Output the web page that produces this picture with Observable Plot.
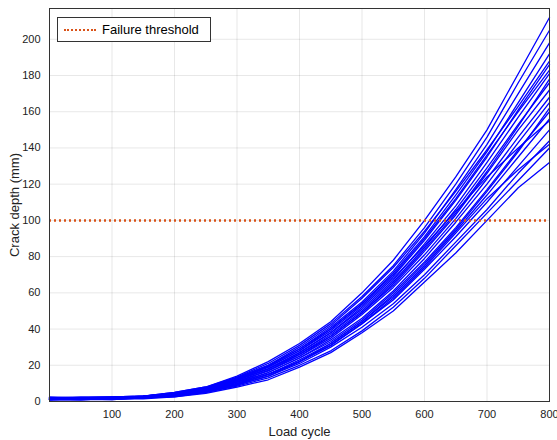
<!DOCTYPE html>
<html><head><meta charset="utf-8">
<script src="https://cdn.jsdelivr.net/npm/d3@7"></script>
<script src="https://cdn.jsdelivr.net/npm/@observablehq/plot@0.6"></script>
<style>
body{margin:0;background:#fff;font-family:"Helvetica","Liberation Sans",sans-serif}
#wrap{position:relative;width:557px;height:440px}
#legend{position:absolute;left:57px;top:17px;width:152px;height:23px;border:1px solid #333;background:#fff;font-size:13px;display:flex;align-items:center}
#legend span.l{display:inline-block;width:32px;margin:0 6px 0 6px;border-top:2.5px dotted #d95319}
</style></head><body>
<div id="wrap"><div id="chart"></div><div id="legend"><span class="l"></span>Failure threshold</div></div>
<script>
const cycles = [0,50,100,150,200,250,300,350,400,450,500,550,600,650,700,750,800];
const curves = [
  [1,1,1.5,1.5,2.5,4.5,8,12,19,27,38,50,66,82,100,118,132],
  [1.5,1,1.5,2,2.5,5,8.5,13,20,28,39,52,68,86,104,122,140],
  [1,1.5,1,2,3,5,9,14,21,30,41,54,70,88,106,126,144],
  [2,1.5,2,2,3,5.5,9.5,15,22,31,43,56,73,91,110,130,150],
  [1,1,1.5,2,3,5.5,10,15,23,32,44,58,75,94,114,135,156],
  [1.5,2,1.5,2.5,3.5,6,10,16,24,33,45,60,77,96,117,139,160],
  [1,1.5,2,2,3.5,6,10.5,16,24,34,46,61,79,99,120,143,165],
  [2,1.5,1.5,2.5,3.5,6,11,17,25,35,48,63,81,101,123,146,168],
  [1.5,1,2,2,3.5,6.5,11,17,26,36,49,64,83,103,126,150,172],
  [1,2,1.5,2.5,4,6.5,11.5,18,26,37,50,66,85,106,129,153,176],
  [2,1.5,2,2.5,4,7,12,18,27,38,51,67,87,108,132,157,181],
  [1.5,2,2,3,4,7,12,19,28,39,53,69,89,111,135,161,186],
  [1,1.5,2,2.5,4.5,7,12.5,19,28,40,54,71,91,114,138,165,192],
  [2,2,2.5,3,4.5,7.5,13,20,29,41,55,72,93,117,142,170,198],
  [1.5,2,2,3,5,8,13.5,21,31,43,58,75,96,120,146,176,205],
  [2,2.5,2.5,3,5,8,14,22,32,44,60,78,100,124,150,181,212],
  [1,1,1.5,2,3,5,9,14,22,31,43,57,74,93,112,128,142],
  [1.5,1.5,2,2.5,4,7,12,18,27,38,52,68,86,105,124,140,155],
  [1,2,1.5,2.5,4,6.5,11,17,25,36,49,65,84,104,127,152,178],
  [2,1.5,2,3,4.5,7.5,13,20,30,42,57,74,94,116,139,163,188],
  [2.5,2,2.5,3,4.5,7,12.5,19.5,29,40,54,70,90,112,136,160,183],
  [1,1,1,2,3,5.5,9.5,15,22,32,44,59,76,95,116,138,162]
];
const threshold = 100;

const rows = curves.flatMap((c, i) => c.map((v, j) => ({id: i, x: cycles[j], y: v})));

const chart = Plot.plot({
  width: 557,
  height: 440,
  marginLeft: 49, marginRight: 8, marginTop: 8, marginBottom: 39,
  style: {fontFamily: "Helvetica, 'Liberation Sans', sans-serif", fontSize: 11, color: "#222"},
  x: {domain: [0, 800], ticks: [100,200,300,400,500,600,700,800], tickSize: 0, grid: true, label: "Load cycle", labelAnchor: "center", labelArrow: "none", labelOffset: 34},
  y: {domain: [0, 217], ticks: d3.range(0, 201, 20), tickSize: 0, grid: true, label: "Crack depth (mm)", labelAnchor: "center", labelArrow: "none", labelOffset: 40},
  marks: [
    Plot.line(rows, {x: "x", y: "y", z: "id", stroke: "#0000ff", strokeWidth: 1.3, curve: "linear"}),
    Plot.ruleY([threshold], {stroke: "#d95319", strokeWidth: 2.5, strokeDasharray: "2,3"}),
    Plot.frame({stroke: "#333"})
  ]
});
d3.select(chart).selectAll("g[aria-label$='axis label'] text").style("font-size", "13px");
d3.select('#chart').append(() => chart);
</script></body></html>
